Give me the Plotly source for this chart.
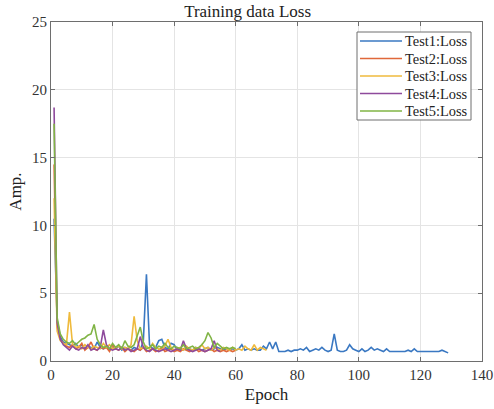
import plotly.graph_objects as go

test1 = [10.5, 3.0, 1.8, 1.4, 1.3, 1.2, 1.1, 1.3, 1.0, 1.2, 0.9, 1.1, 1.0, 0.9, 1.4, 1.0, 0.9, 1.1, 0.8, 1.0,
         0.9, 1.1, 0.8, 1.0, 0.9, 0.8, 1.0, 0.9, 0.8, 1.5, 6.4, 1.2, 0.9, 1.0, 1.5, 1.6, 1.0, 0.9, 1.3, 1.2,
         0.8, 0.9, 0.8, 1.0, 0.9, 0.8, 1.0, 0.9, 0.8, 0.9, 1.0, 0.8, 0.9, 1.0, 0.9, 0.8, 0.9, 0.8, 0.9, 0.8,
         0.9, 1.2, 0.8, 0.9, 0.8, 0.9, 0.8, 0.8, 1.1, 0.9, 1.4, 0.9, 1.4, 0.7, 0.7, 0.7, 0.8, 0.7, 0.8, 0.8,
         0.9, 0.8, 1.0, 0.7, 0.8, 0.9, 0.8, 1.0, 0.8, 0.7, 0.8, 2.0, 0.8, 0.7, 0.7, 0.8, 1.2, 0.9, 0.8, 0.7,
         0.9, 0.7, 0.8, 1.0, 0.8, 0.9, 0.8, 0.7, 0.9, 0.7, 0.7, 0.7, 0.7, 0.7, 0.7, 0.8, 0.7, 0.9, 0.7, 0.7,
         0.7, 0.7, 0.7, 0.7, 0.7, 0.7, 0.8, 0.7, 0.6]
test2 = [14.5, 2.5, 1.6, 1.3, 1.1, 1.0, 1.2, 0.9, 1.0, 1.3, 0.8, 1.0, 1.4, 0.9, 0.8, 1.1, 0.9, 1.0, 0.7, 1.2,
         0.9, 0.8, 1.0, 0.7, 0.9, 0.8, 0.7, 0.9, 0.8, 1.0, 0.7, 0.8, 0.9, 0.7, 0.8, 1.0, 0.7, 0.8, 0.9, 0.7,
         0.8, 0.7, 0.9, 0.8, 0.7, 0.8, 0.9, 0.7, 0.8, 0.7, 0.8, 0.9, 0.7, 0.8, 0.7, 0.8, 0.7, 0.8, 0.7, 0.8]
test3 = [12.0, 2.2, 1.5, 1.3, 1.2, 3.6, 1.2, 1.0, 1.1, 0.9, 1.2, 1.0, 0.9, 1.1, 1.0, 0.9, 1.3, 1.0, 1.2, 0.9,
         1.0, 1.1, 0.9, 1.0, 0.9, 1.2, 3.3, 1.5, 0.9, 1.0, 1.1, 0.9, 1.3, 1.0, 0.9, 0.8, 1.1, 1.6, 1.0, 0.8,
         0.9, 1.0, 0.8, 1.1, 0.9, 0.8, 1.0, 0.9, 1.2, 0.9, 1.0, 0.8, 1.0, 0.9, 0.8, 1.0, 0.9, 0.8, 1.0, 0.8,
         0.9, 0.8, 1.1, 0.9, 0.8, 1.2, 0.8, 1.0, 0.9, 0.8]
test4 = [18.7, 2.8, 1.6, 1.2, 1.0, 0.8, 1.1, 0.9, 0.8, 1.0, 0.9, 1.2, 0.8, 0.9, 0.8, 1.0, 2.3, 1.2, 0.9, 0.8,
         0.9, 0.8, 1.0, 0.8, 0.9, 0.7, 0.8, 0.9, 1.8, 1.0, 0.8, 0.7, 0.9, 0.8, 0.7, 0.8, 0.9, 0.8, 0.7, 0.8,
         0.9, 0.8, 1.5, 0.9, 0.8, 0.7, 0.8, 0.9, 0.8, 0.7, 0.8, 0.9, 1.5, 0.8, 0.7]
test5 = [17.5, 3.2, 2.0, 1.6, 1.4, 1.3, 1.5, 1.2, 1.4, 1.6, 1.7, 1.9, 2.0, 2.7, 1.6, 1.2, 1.0, 1.1, 0.9, 1.3,
         1.0, 1.2, 0.9, 1.5, 1.1, 1.0, 1.2, 1.8, 2.5, 1.4, 0.9, 1.0, 1.2, 0.9, 1.1, 1.0, 1.3, 1.0, 0.9, 1.1,
         1.0, 0.9, 1.2, 0.9, 1.0, 1.1, 0.9, 1.0, 1.2, 1.5, 2.1, 1.7, 1.0, 1.3, 1.1, 0.9, 1.0, 0.9, 1.0, 0.9]

names = ["Test1:Loss", "Test2:Loss", "Test3:Loss", "Test4:Loss", "Test5:Loss"]
series = [test1, test2, test3, test4, test5]
colors = ["#3a78c2", "#e0683a", "#efba3c", "#8e4a9c", "#80b445"]

x_ticks = [0, 20, 40, 60, 80, 100, 120, 140]
y_ticks = [0, 5, 10, 15, 20, 25]

W, H = 494, 409
ML, MR, MT, MB = 51, 12, 22, 48
PW, PH = W - ML - MR, H - MT - MB


def px_x(p):
    return (p - ML) / PW


def px_y(p):
    return 1 - (p - MT) / PH


fig = go.Figure()
for name, ys, c in zip(names, series, colors):
    fig.add_trace(go.Scatter(x=list(range(1, len(ys) + 1)), y=ys, mode="lines", name=name,
                             line=dict(color=c, width=1.6), showlegend=False))

font = "Liberation Serif"
axis_common = dict(showline=True, linecolor="#6e6e6e", linewidth=1, mirror="ticks",
                   showgrid=True, gridcolor="#e4e4e4", gridwidth=1, zeroline=False,
                   ticks="inside", ticklen=4, tickcolor="#6e6e6e", automargin=False,
                   tickfont=dict(family=font, size=15, color="#333333"))

# manual legend (MATLAB-style box)
shapes = [dict(type="rect", xref="paper", yref="paper",
               x0=px_x(357), x1=px_x(471), y0=px_y(120), y1=px_y(32),
               line=dict(color="#6e6e6e", width=1), fillcolor="white", layer="above")]
annotations = []
row_y = [41, 58.5, 76, 93.5, 111]
for name, c, ry in zip(names, colors, row_y):
    shapes.append(dict(type="line", xref="paper", yref="paper",
                       x0=px_x(360), x1=px_x(402), y0=px_y(ry), y1=px_y(ry),
                       line=dict(color=c, width=1.6), layer="above"))
    annotations.append(dict(xref="paper", yref="paper", x=px_x(403), y=px_y(ry),
                            xanchor="left", yanchor="middle", text=name, showarrow=False,
                            font=dict(family=font, size=14.4, color="#222222")))

fig.update_layout(
    width=W, height=H,
    margin=dict(l=ML, r=MR, t=MT, b=MB),
    font=dict(family=font, color="#333333"),
    paper_bgcolor="white", plot_bgcolor="white",
    title=dict(text="Training data Loss", x=px_x(267), xanchor="center",
               y=1 - 11.5 / H, yanchor="middle",
               font=dict(family=font, size=17, color="#222222")),
    xaxis=dict(range=[0, 140], tickvals=x_ticks,
               title=dict(text="Epoch", standoff=6, font=dict(family=font, size=17, color="#222222")),
               **axis_common),
    yaxis=dict(range=[0, 25], tickvals=y_ticks,
               title=dict(text="Amp.", standoff=6, font=dict(family=font, size=17, color="#222222")),
               **axis_common),
    shapes=shapes,
    annotations=annotations,
    showlegend=False,
)
fig.write_html("out.html", config={"displayModeBar": False},
               post_script="document.body.style.margin='0';")
